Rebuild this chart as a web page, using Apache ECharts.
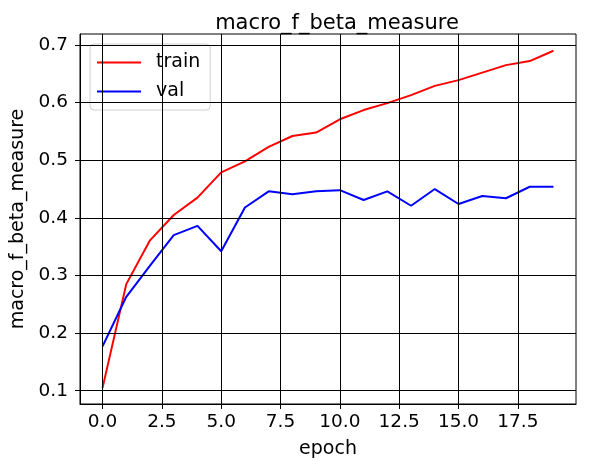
<!DOCTYPE html>
<html>
<head>
<meta charset="utf-8">
<script src="https://cdn.jsdelivr.net/npm/echarts@6/dist/echarts.min.js"></script>
<style>
  html, body { margin: 0; padding: 0; background: #fff; }
  #chart { width: 589px; height: 469px; }
</style>
</head>
<body>
<div id="chart"></div>
<script>
var epochs = [0, 1, 2, 3, 4, 5, 6, 7, 8, 9, 10, 11, 12, 13, 14, 15, 16, 17, 18, 19];
var train = [0.105, 0.285, 0.361, 0.405, 0.435, 0.479, 0.498, 0.523, 0.542, 0.548,
             0.571, 0.587, 0.599, 0.613, 0.629, 0.639, 0.652, 0.665, 0.672, 0.690];
var val = [0.177, 0.263, 0.317, 0.370, 0.386, 0.342, 0.418, 0.446, 0.441, 0.446,
           0.448, 0.431, 0.446, 0.421, 0.450, 0.424, 0.438, 0.434, 0.454, 0.454];
var xTicks = [0, 2.5, 5, 7.5, 10, 12.5, 15, 17.5];
var yTicks = [0.1, 0.2, 0.3, 0.4, 0.5, 0.6, 0.7];

var font = 'DejaVu Sans';

function pairs(ys) {
  return epochs.map(function (x, i) { return [x, ys[i]]; });
}

var chart = echarts.init(document.getElementById('chart'), null, { renderer: 'canvas' });

var option = {
  backgroundColor: '#fff',
  animation: false,
  title: {
    text: 'macro_f_beta_measure',
    left: 332, top: 8,
    textAlign: 'center',
    textStyle: { fontFamily: font, fontSize: 21, fontWeight: 'normal', color: '#000' }
  },
  legend: {
    orient: 'vertical',
    left: 90, top: 44,
    padding: [9, 10, 9, 7],
    itemGap: 10,
    itemWidth: 44,
    itemHeight: 2,
    icon: 'rect',
    backgroundColor: 'rgba(255,255,255,0.8)',
    borderColor: '#d0d0d0',
    borderWidth: 1,
    borderRadius: 4,
    textStyle: { fontFamily: font, fontSize: 19, color: '#000', padding: [0, 0, 0, 10] },
    data: ['train', 'val']
  },
  grid: {
    left: 80, right: 13, top: 34, bottom: 65,
    show: true, borderColor: '#000', borderWidth: 1, backgroundColor: 'transparent'
  },
  xAxis: {
    type: 'value',
    min: -0.95, max: 19.95,
    name: 'epoch',
    nameLocation: 'middle',
    nameGap: 36,
    nameTextStyle: { fontFamily: font, fontSize: 19, color: '#000' },
    axisLine: { show: true, onZero: false, lineStyle: { color: '#000' } },
    axisTick: { show: true, inside: false, length: 5, customValues: xTicks, lineStyle: { color: '#000' } },
    axisLabel: {
      customValues: xTicks, margin: 9,
      fontFamily: font, fontSize: 18.5, color: '#000',
      formatter: function (v) { return v.toFixed(1); }
    },
    splitLine: { show: false }
  },
  yAxis: {
    type: 'value',
    min: 0.077, max: 0.719,
    name: 'macro_f_beta_measure',
    nameLocation: 'middle',
    nameGap: 50,
    nameTextStyle: { fontFamily: font, fontSize: 19, color: '#000' },
    axisLine: { show: true, onZero: false, lineStyle: { color: '#000' } },
    axisTick: { show: true, inside: false, length: 5, customValues: yTicks, lineStyle: { color: '#000' } },
    axisLabel: {
      customValues: yTicks, margin: 12,
      fontFamily: font, fontSize: 18.5, color: '#000',
      formatter: function (v) { return v.toFixed(1); }
    },
    splitLine: { show: false }
  },
  series: [
    {
      name: 'train', type: 'line', data: pairs(train),
      symbol: 'none', color: '#ff0000', z: 3,
      lineStyle: { color: '#ff0000', width: 2 }
    },
    {
      name: 'val', type: 'line', data: pairs(val),
      symbol: 'none', color: '#0000ff', z: 3,
      lineStyle: { color: '#0000ff', width: 2 }
    },
    {
      // grid lines at the tick positions
      name: 'grid', type: 'line', data: [], silent: true, z: 1,
      markLine: {
        symbol: 'none', silent: true, animation: false,
        label: { show: false },
        lineStyle: { color: '#000', width: 1, type: 'solid' },
        data: xTicks.map(function (t) { return { xAxis: t }; })
          .concat(yTicks.map(function (t) { return { yAxis: t }; }))
      }
    }
  ]
};

chart.setOption(option);
</script>
</body>
</html>
